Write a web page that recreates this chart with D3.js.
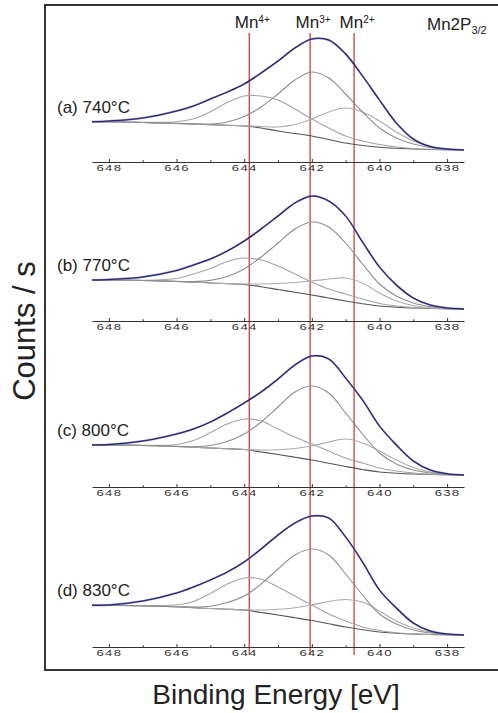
<!DOCTYPE html>
<html>
<head>
<meta charset="utf-8">
<script src="https://cdn.jsdelivr.net/npm/d3@7"></script>
<style>
  body { margin: 0; background: #fff; }
  svg { display: block; font-family: "Liberation Sans", Arial, sans-serif; }
</style>
</head>
<body>
<script>
// binding energy grid (eV) shared by every curve
var energy = [648.5, 648, 647, 646, 645.5, 645, 644.5, 644, 643.5, 643, 642.5, 642, 641.5, 641, 640.5, 640, 639.5, 639, 638.5, 638, 637.5];

var samples = ["(a) 740\u00B0C", "(b) 770\u00B0C", "(c) 800\u00B0C", "(d) 830\u00B0C"];

// measured spectrum / fit envelope (a.u.)
var envelope = [
  [28.3, 29, 32, 39, 44, 51, 58, 66, 77, 89, 102, 111, 110, 96, 74, 50, 27, 11, 3.5, 1, 0],
  [29, 29.5, 32, 38.5, 44, 50, 58, 68, 80, 93, 106, 113, 108, 93, 67, 42, 24, 11, 4, 1, 0],
  [30, 30.5, 34, 41, 46, 53, 62, 72, 83, 96, 110, 119, 116, 97, 75, 49, 30, 14, 5, 1.3, 0],
  [29.7, 30, 34, 42, 48, 55, 63, 73, 86, 100, 112, 119, 117, 98, 73, 45, 27, 12, 4, 1, 0]
];
// Shirley background
var background = [
  [28.3, 28.3, 27.5, 26.5, 26, 25.3, 24.7, 24, 22, 19, 16.5, 14, 10.5, 7, 4.5, 2.7, 1.7, 1, 0.5, 0.3, 0],
  [29, 29, 28.5, 27.5, 27, 26, 25.2, 24.5, 22.3, 19.5, 16.8, 14, 11, 8, 5.3, 3, 1.8, 1, 0.5, 0.3, 0],
  [30, 30, 29.5, 28.5, 27.8, 27, 26.3, 25.5, 23, 20.5, 17.8, 15, 11.7, 8.5, 5.5, 3, 1.8, 1, 0.5, 0.3, 0],
  [29.7, 29.7, 29.2, 28.2, 27.4, 26.5, 25.8, 25, 22.5, 20, 17.3, 14.5, 11.2, 8, 5.3, 3, 1.8, 1, 0.5, 0.3, 0]
];
// fitted components (on top of background)
var mn4 = [
  [28.3, 28.3, 27.7, 28.3, 31.3, 38.3, 47.5, 54, 54, 50, 41, 31, 22, 14, 9, 5.5, 3, 1.5, 0.7, 0.3, 0],
  [29, 29, 28.7, 30.5, 35, 40.5, 47.5, 51, 49, 43, 35, 27, 20, 15, 10, 5.5, 3, 1.5, 0.7, 0.3, 0],
  [30, 30, 29.6, 30.5, 34.5, 42.5, 51, 56, 54, 46, 38, 31, 24, 17, 12, 7, 4, 2, 0.8, 0.3, 0],
  [29.7, 29.7, 29.3, 30.3, 33.6, 41.5, 51, 57, 56, 48, 39, 30, 21, 14, 8, 4.5, 2.3, 1.2, 0.5, 0.2, 0]
];
var mn3 = [
  [28.3, 28.3, 27.5, 26.6, 26.1, 26, 28, 33.5, 43, 56, 70, 78, 72, 56, 38, 22, 12, 6, 2.5, 0.7, 0],
  [29, 29, 28.5, 27.6, 27.4, 28.6, 32.5, 40, 52, 66, 80, 87, 82, 66, 45, 25, 13, 6, 2.5, 0.8, 0],
  [30, 30, 29.5, 28.6, 28.3, 29.5, 33.5, 41, 53, 68, 83, 89, 82, 62, 41, 22, 11, 5, 2, 0.6, 0],
  [29.7, 29.7, 29.2, 28.3, 27.9, 28.8, 32.5, 39, 51, 66, 80, 86, 80, 61, 40, 21, 11, 5, 2, 0.6, 0]
];
var mn2 = [
  [28.3, 28.3, 27.5, 26.5, 26, 25.3, 24.8, 24.4, 23.5, 23, 25.5, 31, 38, 42, 38, 29, 18, 9, 3.5, 1, 0],
  [29, 29, 28.5, 27.5, 27, 26, 25.5, 25, 25, 25.5, 26.5, 28, 30, 31, 26, 16, 8, 3.5, 1.3, 0.4, 0],
  [30, 30, 29.5, 28.5, 27.8, 27, 26.2, 25.5, 25, 25.2, 26.5, 29, 33, 36, 32, 24, 15, 7.5, 3, 1, 0],
  [29.7, 29.7, 29.2, 28.2, 27.4, 26.5, 25.8, 25.2, 25, 25.7, 27.3, 30, 33.5, 35.5, 33, 24, 14, 7, 3, 1, 0]
];

var peakPos = [643.85, 642.05, 640.75];
var peakCharge = ["4+", "3+", "2+"];
var majorTicks = [648, 646, 644, 642, 640, 638];
var minorTicks = [647, 645, 643, 641, 639];

var W = 498, H = 713;
var axisY = [162, 321, 487, 647];   // where each panel's energy axis sits

var svg = d3.select("body").append("svg").attr("width", W).attr("height", H);
svg.append("rect").attr("width", W).attr("height", H).attr("fill", "#fff");

var x = d3.scaleLinear().domain([648.5, 637.5]).range([92, 464]);

// frame (top, left, bottom)
svg.append("path")
  .attr("d", "M" + W + ",5H45V670H" + W)
  .attr("fill", "none").attr("stroke", "#333").attr("stroke-width", 2);

// red reference lines for the Mn oxidation states
peakPos.forEach(function(e, i){
  svg.append("line")
    .attr("x1", x(e)).attr("x2", x(e)).attr("y1", 33).attr("y2", 655)
    .attr("stroke", "#c4322a").attr("stroke-width", 1.2);
  var t = svg.append("text")
    .attr("x", x(e) + 3).attr("y", 28).attr("text-anchor", "middle")
    .attr("font-size", 17).attr("fill", "#222");
  t.append("tspan").text("Mn");
  t.append("tspan").attr("font-size", 10).attr("dy", -5).text(peakCharge[i]);
});

var lbl = svg.append("text").attr("x", 427).attr("y", 30)
  .attr("font-size", 17).attr("fill", "#222");
lbl.append("tspan").text("Mn2P");
lbl.append("tspan").attr("font-size", 11).attr("dy", 4).text("3/2");

samples.forEach(function(name, p){
  var base = axisY[p] - 12;
  var y = d3.scaleLinear().domain([0, 100]).range([base, base - 100]);
  var g = svg.append("g");

  var line = d3.line()
    .x(function(d, i){ return x(energy[i]); })
    .y(function(d){ return y(d); })
    .curve(d3.curveCatmullRom.alpha(0.5));

  g.append("path").attr("d", line(background[p]))
    .attr("fill", "none").attr("stroke", "#555").attr("stroke-width", 1.1);
  g.append("path").attr("d", line(mn4[p]))
    .attr("fill", "none").attr("stroke", "#a4a4a4").attr("stroke-width", 1.1);
  g.append("path").attr("d", line(mn2[p]))
    .attr("fill", "none").attr("stroke", "#ababab").attr("stroke-width", 1.1);
  g.append("path").attr("d", line(mn3[p]))
    .attr("fill", "none").attr("stroke", "#8e8e8e").attr("stroke-width", 1.1);
  // measured data (blue) under the fit envelope (dark)
  g.append("path").attr("d", line(envelope[p]))
    .attr("fill", "none").attr("stroke", "#6464c4").attr("stroke-width", 1.9).attr("opacity", 0.75);
  g.append("path").attr("d", line(envelope[p]))
    .attr("fill", "none").attr("stroke", "#23235a").attr("stroke-width", 1.1);

  // energy axis
  var ax = g.append("g").attr("transform", "translate(0," + axisY[p] + ")")
    .call(d3.axisBottom(x).tickValues(majorTicks).tickSize(-3).tickSizeOuter(0)
      .tickPadding(3).tickFormat(d3.format("d")));
  ax.select(".domain").attr("stroke", "#333");
  ax.selectAll(".tick line").attr("stroke", "#333");
  ax.selectAll(".tick text")
    .attr("font-size", 8.5).attr("font-family", "'Liberation Sans', Arial, sans-serif")
    .attr("fill", "#333").attr("letter-spacing", 0.8)
    .attr("transform", "scale(1.55,1)");
  var mx = g.append("g").attr("transform", "translate(0," + axisY[p] + ")")
    .call(d3.axisBottom(x).tickValues(minorTicks).tickSize(-1.8).tickFormat(""));
  mx.select(".domain").remove();
  mx.selectAll(".tick line").attr("stroke", "#333");

  g.append("text").attr("x", 57).attr("y", y(envelope[p][0]) - 9)
    .attr("font-size", 17).attr("fill", "#222").text(name);
});

svg.append("text")
  .attr("transform", "translate(35,331) rotate(-90)")
  .attr("text-anchor", "middle").attr("font-size", 31).attr("fill", "#222")
  .text("Counts / s");

svg.append("text").attr("x", 276).attr("y", 704).attr("text-anchor", "middle")
  .attr("font-size", 28).attr("fill", "#222").text("Binding Energy [eV]");
</script>
</body>
</html>
